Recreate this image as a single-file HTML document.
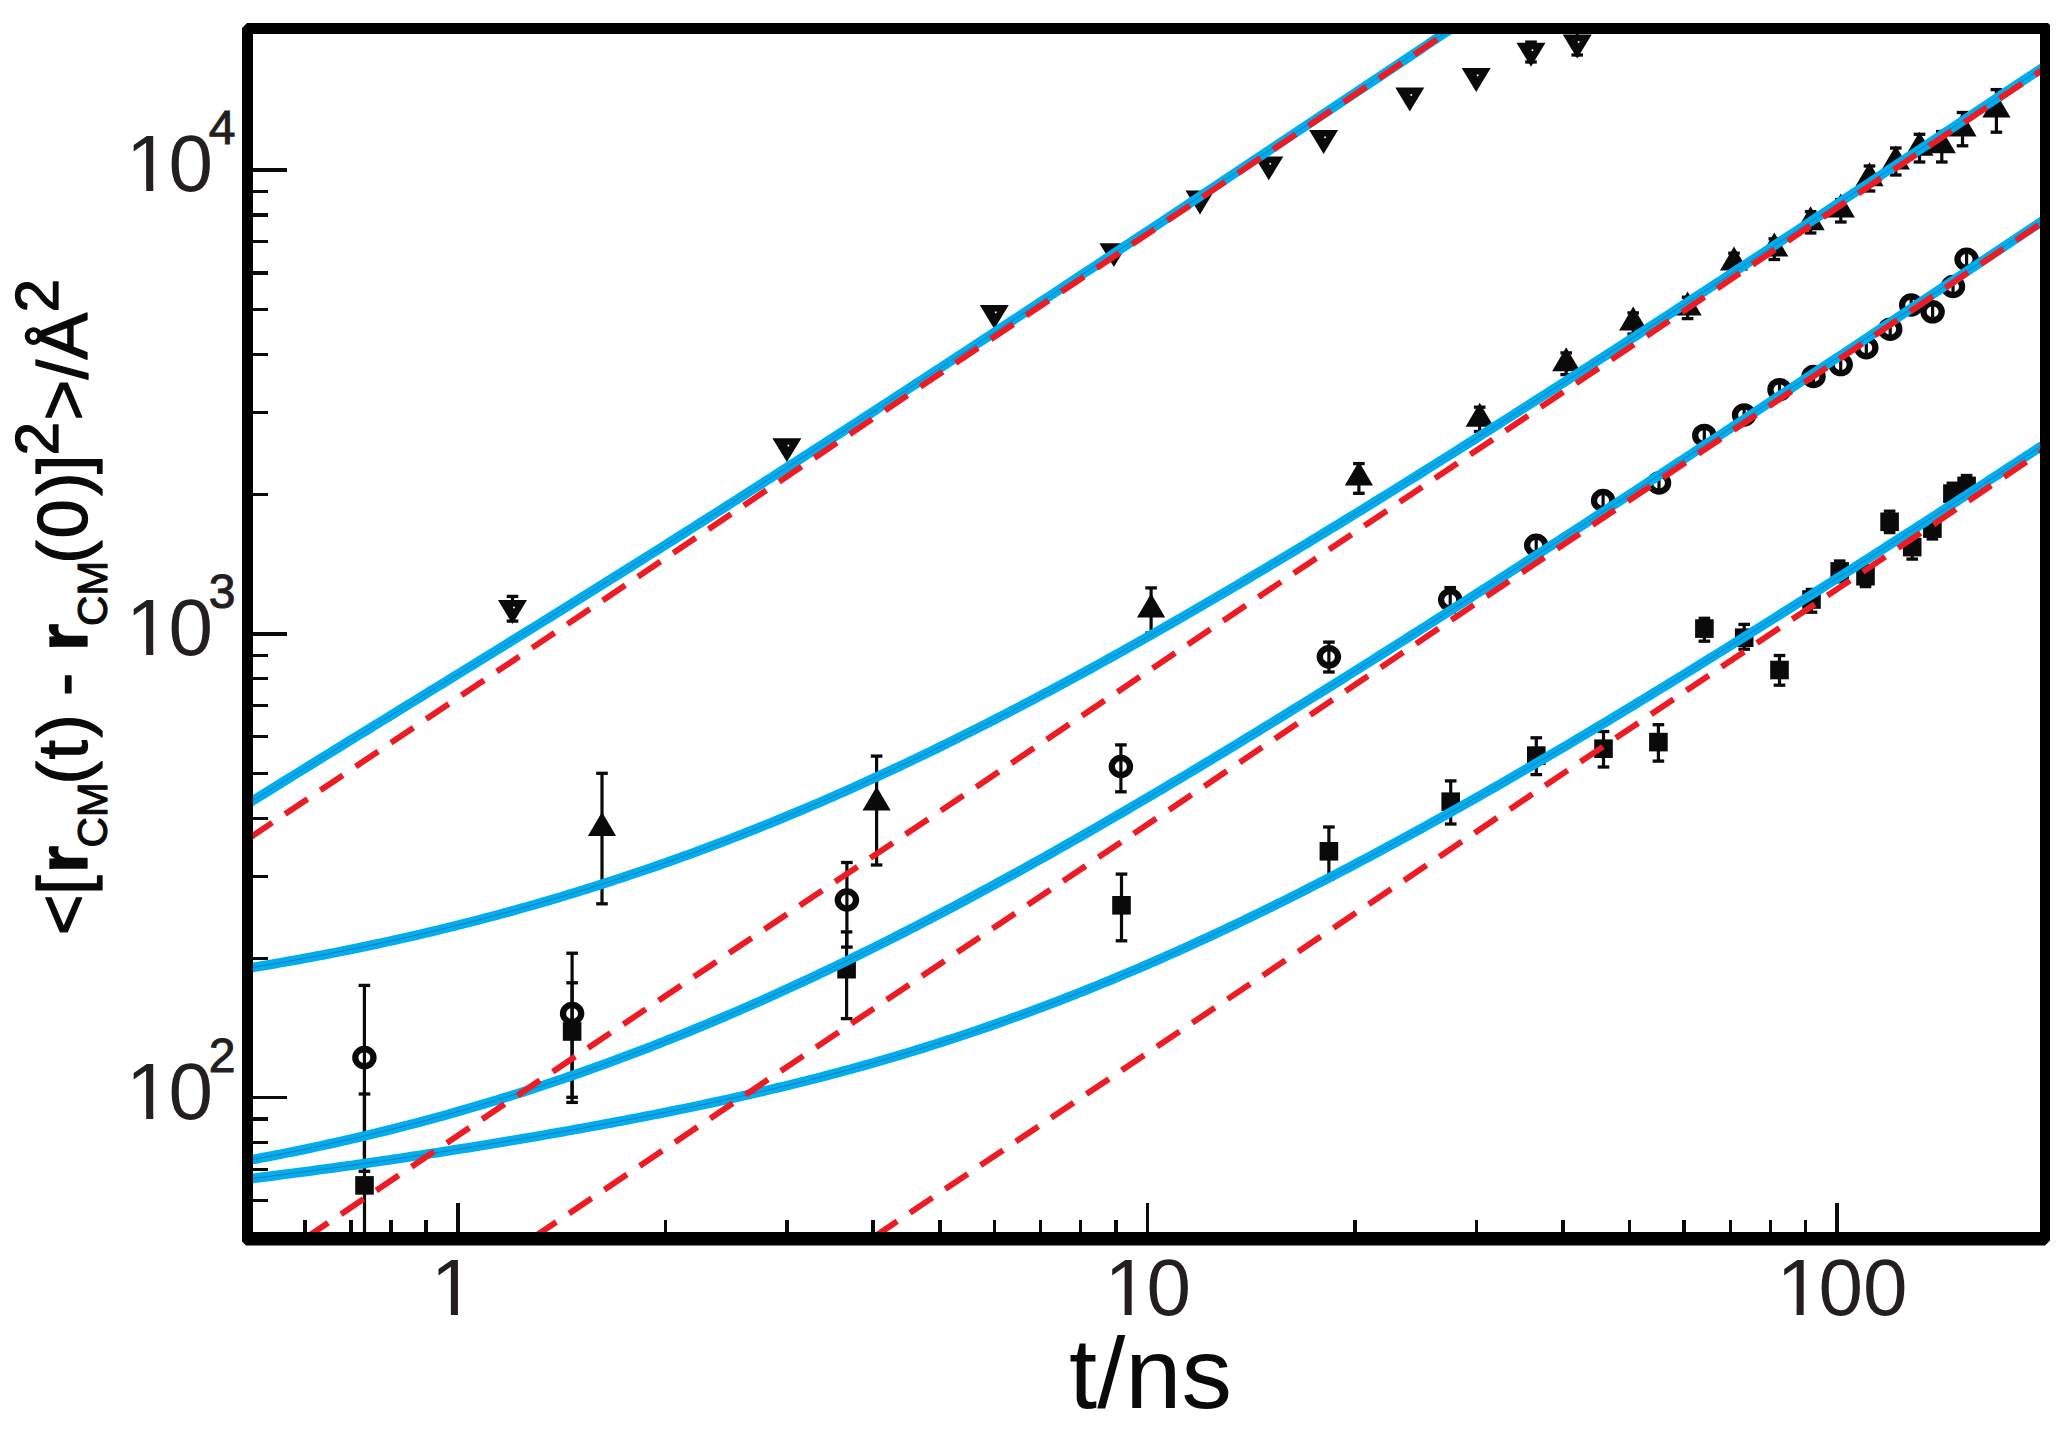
<!DOCTYPE html>
<html lang="en"><head><meta charset="utf-8"><title>MSD plot</title>
<style>html,body{margin:0;padding:0;background:#fff;}body{width:2069px;height:1441px;overflow:hidden;}svg{display:block;}text{font-family:"Liberation Sans",sans-serif;}</style>
</head><body>
<svg width="2069" height="1441" viewBox="0 0 2069 1441">
<rect width="2069" height="1441" fill="#fff"/>
<defs><clipPath id="plot"><rect x="253" y="34" width="1787" height="1198"/></clipPath></defs>
<g fill="#0a0a0a" shape-rendering="crispEdges">
<rect x="302.99" y="1220.2" width="3.6" height="13.8"/>
<rect x="349.16" y="1220.2" width="3.6" height="13.8"/>
<rect x="389.16" y="1220.2" width="3.6" height="13.8"/>
<rect x="424.44" y="1220.2" width="3.6" height="13.8"/>
<rect x="456" y="1203" width="3.6" height="31"/>
<rect x="663.62" y="1220.2" width="3.6" height="13.8"/>
<rect x="785.07" y="1220.2" width="3.6" height="13.8"/>
<rect x="871.24" y="1220.2" width="3.6" height="13.8"/>
<rect x="938.08" y="1220.2" width="3.6" height="13.8"/>
<rect x="992.69" y="1220.2" width="3.6" height="13.8"/>
<rect x="1038.86" y="1220.2" width="3.6" height="13.8"/>
<rect x="1078.86" y="1220.2" width="3.6" height="13.8"/>
<rect x="1114.14" y="1220.2" width="3.6" height="13.8"/>
<rect x="1145.7" y="1203" width="3.6" height="31"/>
<rect x="1353.32" y="1220.2" width="3.6" height="13.8"/>
<rect x="1474.77" y="1220.2" width="3.6" height="13.8"/>
<rect x="1560.94" y="1220.2" width="3.6" height="13.8"/>
<rect x="1627.78" y="1220.2" width="3.6" height="13.8"/>
<rect x="1682.39" y="1220.2" width="3.6" height="13.8"/>
<rect x="1728.56" y="1220.2" width="3.6" height="13.8"/>
<rect x="1768.56" y="1220.2" width="3.6" height="13.8"/>
<rect x="1803.84" y="1220.2" width="3.6" height="13.8"/>
<rect x="1835.4" y="1203" width="3.6" height="31"/>
<rect x="251" y="1199.12" width="17" height="3.2"/>
<rect x="251" y="1168.06" width="17" height="3.2"/>
<rect x="251" y="1141.16" width="17" height="3.2"/>
<rect x="251" y="1117.43" width="17" height="3.2"/>
<rect x="251" y="1096.2" width="36" height="3.2"/>
<rect x="251" y="956.55" width="17" height="3.2"/>
<rect x="251" y="874.86" width="17" height="3.2"/>
<rect x="251" y="816.9" width="17" height="3.2"/>
<rect x="251" y="771.95" width="17" height="3.2"/>
<rect x="251" y="735.22" width="17" height="3.2"/>
<rect x="251" y="704.16" width="17" height="3.2"/>
<rect x="251" y="677.26" width="17" height="3.2"/>
<rect x="251" y="653.53" width="17" height="3.2"/>
<rect x="251" y="632.3" width="36" height="3.2"/>
<rect x="251" y="492.65" width="17" height="3.2"/>
<rect x="251" y="410.96" width="17" height="3.2"/>
<rect x="251" y="353" width="17" height="3.2"/>
<rect x="251" y="308.05" width="17" height="3.2"/>
<rect x="251" y="271.32" width="17" height="3.2"/>
<rect x="251" y="240.26" width="17" height="3.2"/>
<rect x="251" y="213.36" width="17" height="3.2"/>
<rect x="251" y="189.63" width="17" height="3.2"/>
<rect x="251" y="168.4" width="36" height="3.2"/>
</g>
<g clip-path="url(#plot)">
<g fill="#0a0a0a">
<rect x="362.9" y="1094" width="3.2" height="140"/>
<rect x="358.7" y="1092.35" width="11.6" height="3.3"/>
<rect x="355.2" y="1176.1" width="18.6" height="18.6"/>
<rect x="570.5" y="982.8" width="3.2" height="114.5"/>
<rect x="566.3" y="981.15" width="11.6" height="3.3"/>
<rect x="566.3" y="1095.65" width="11.6" height="3.3"/>
<rect x="562.8" y="1022.2" width="18.6" height="18.6"/>
<rect x="845" y="931.9" width="3.2" height="86.7"/>
<rect x="840.8" y="930.25" width="11.6" height="3.3"/>
<rect x="840.8" y="1016.95" width="11.6" height="3.3"/>
<rect x="837.3" y="959.9" width="18.6" height="18.6"/>
<rect x="1119.9" y="874.1" width="3.2" height="66.7"/>
<rect x="1115.7" y="872.45" width="11.6" height="3.3"/>
<rect x="1115.7" y="939.15" width="11.6" height="3.3"/>
<rect x="1112.2" y="896" width="18.6" height="18.6"/>
<rect x="1327.3" y="827" width="3.2" height="51.8"/>
<rect x="1323.1" y="825.35" width="11.6" height="3.3"/>
<rect x="1323.1" y="877.15" width="11.6" height="3.3"/>
<rect x="1319.6" y="842" width="18.6" height="18.6"/>
<rect x="1449.1" y="780.9" width="3.2" height="43.1"/>
<rect x="1444.9" y="779.25" width="11.6" height="3.3"/>
<rect x="1444.9" y="822.35" width="11.6" height="3.3"/>
<rect x="1441.4" y="792.4" width="18.6" height="18.6"/>
<rect x="1534.7" y="737.8" width="3.2" height="36.8"/>
<rect x="1530.5" y="736.15" width="11.6" height="3.3"/>
<rect x="1530.5" y="772.95" width="11.6" height="3.3"/>
<rect x="1527" y="746.3" width="18.6" height="18.6"/>
<rect x="1601.9" y="731.5" width="3.2" height="35.5"/>
<rect x="1597.7" y="729.85" width="11.6" height="3.3"/>
<rect x="1597.7" y="765.35" width="11.6" height="3.3"/>
<rect x="1594.2" y="739.4" width="18.6" height="18.6"/>
<rect x="1656.8" y="724.7" width="3.2" height="36.4"/>
<rect x="1652.6" y="723.05" width="11.6" height="3.3"/>
<rect x="1652.6" y="759.45" width="11.6" height="3.3"/>
<rect x="1649.1" y="732.8" width="18.6" height="18.6"/>
<rect x="1702.8" y="618.3" width="3.2" height="22.9"/>
<rect x="1698.6" y="616.65" width="11.6" height="3.3"/>
<rect x="1698.6" y="639.55" width="11.6" height="3.3"/>
<rect x="1695.1" y="619.3" width="18.6" height="18.6"/>
<rect x="1742.6" y="624.4" width="3.2" height="24.8"/>
<rect x="1738.4" y="622.75" width="11.6" height="3.3"/>
<rect x="1738.4" y="647.55" width="11.6" height="3.3"/>
<rect x="1734.9" y="628.4" width="18.6" height="18.6"/>
<rect x="1777.9" y="655.5" width="3.2" height="29.7"/>
<rect x="1773.7" y="653.85" width="11.6" height="3.3"/>
<rect x="1773.7" y="683.55" width="11.6" height="3.3"/>
<rect x="1770.2" y="660.7" width="18.6" height="18.6"/>
<rect x="1809.9" y="589.4" width="3.2" height="22.8"/>
<rect x="1805.7" y="587.75" width="11.6" height="3.3"/>
<rect x="1805.7" y="610.55" width="11.6" height="3.3"/>
<rect x="1802.2" y="590.2" width="18.6" height="18.6"/>
<rect x="1838.1" y="561" width="3.2" height="20.8"/>
<rect x="1833.9" y="559.35" width="11.6" height="3.3"/>
<rect x="1833.9" y="580.15" width="11.6" height="3.3"/>
<rect x="1830.4" y="562.1" width="18.6" height="18.6"/>
<rect x="1863.9" y="565.8" width="3.2" height="20.8"/>
<rect x="1859.7" y="564.15" width="11.6" height="3.3"/>
<rect x="1859.7" y="584.95" width="11.6" height="3.3"/>
<rect x="1856.2" y="566.9" width="18.6" height="18.6"/>
<rect x="1888" y="511.2" width="3.2" height="21.4"/>
<rect x="1883.8" y="509.55" width="11.6" height="3.3"/>
<rect x="1883.8" y="530.95" width="11.6" height="3.3"/>
<rect x="1880.3" y="512.5" width="18.6" height="18.6"/>
<rect x="1910.6" y="535" width="3.2" height="24.1"/>
<rect x="1906.4" y="533.35" width="11.6" height="3.3"/>
<rect x="1906.4" y="557.45" width="11.6" height="3.3"/>
<rect x="1902.9" y="537.8" width="18.6" height="18.6"/>
<rect x="1930.8" y="518.2" width="3.2" height="20.8"/>
<rect x="1926.6" y="516.55" width="11.6" height="3.3"/>
<rect x="1926.6" y="537.35" width="11.6" height="3.3"/>
<rect x="1923.1" y="519.3" width="18.6" height="18.6"/>
<rect x="1950.8" y="483.2" width="3.2" height="20.8"/>
<rect x="1946.6" y="481.55" width="11.6" height="3.3"/>
<rect x="1946.6" y="502.35" width="11.6" height="3.3"/>
<rect x="1943.1" y="484.3" width="18.6" height="18.6"/>
<rect x="1965" y="475.5" width="3.2" height="20.8"/>
<rect x="1960.8" y="473.85" width="11.6" height="3.3"/>
<rect x="1960.8" y="494.65" width="11.6" height="3.3"/>
<rect x="1957.3" y="476.6" width="18.6" height="18.6"/>
<rect x="362.8" y="985.4" width="3.2" height="185.9"/>
<rect x="358.6" y="983.75" width="11.6" height="3.3"/>
<rect x="358.6" y="1169.65" width="11.6" height="3.3"/>
<rect x="570.5" y="953.2" width="3.2" height="149.2"/>
<rect x="566.3" y="951.55" width="11.6" height="3.3"/>
<rect x="566.3" y="1100.75" width="11.6" height="3.3"/>
<rect x="845.3" y="862.5" width="3.2" height="84.6"/>
<rect x="841.1" y="860.85" width="11.6" height="3.3"/>
<rect x="841.1" y="945.45" width="11.6" height="3.3"/>
<rect x="1119.3" y="744.9" width="3.2" height="46.9"/>
<rect x="1115.1" y="743.25" width="11.6" height="3.3"/>
<rect x="1115.1" y="790.15" width="11.6" height="3.3"/>
<rect x="1327.3" y="642.1" width="3.2" height="29.9"/>
<rect x="1323.1" y="640.45" width="11.6" height="3.3"/>
<rect x="1323.1" y="670.35" width="11.6" height="3.3"/>
<rect x="1448.6" y="587.6" width="3.2" height="24.4"/>
<rect x="1444.4" y="585.95" width="11.6" height="3.3"/>
<rect x="1444.4" y="610.35" width="11.6" height="3.3"/>
<rect x="1534.6" y="535" width="3.2" height="21"/>
<rect x="1601.5" y="490" width="3.2" height="21"/>
<rect x="1657.4" y="473" width="3.2" height="20"/>
<rect x="1702.7" y="425" width="3.2" height="21"/>
<rect x="1742.5" y="405" width="3.2" height="20"/>
<rect x="1777.9" y="380" width="3.2" height="20"/>
<rect x="1811.9" y="366" width="3.2" height="21"/>
<rect x="1839.1" y="354" width="3.2" height="21"/>
<rect x="1864.7" y="337" width="3.2" height="21"/>
<rect x="1888.6" y="319" width="3.2" height="21"/>
<rect x="1909.6" y="295" width="3.2" height="20"/>
<rect x="1931" y="301" width="3.2" height="21"/>
<rect x="1951.4" y="276" width="3.2" height="21"/>
<rect x="1965" y="249" width="3.2" height="21"/>
<rect x="600.4" y="773.3" width="3.2" height="130.5"/>
<rect x="596.2" y="771.65" width="11.6" height="3.3"/>
<rect x="596.2" y="902.15" width="11.6" height="3.3"/>
<path d="M602 811.9 L616.1 835.9 L587.9 835.9Z"/>
<rect x="875" y="756.1" width="3.2" height="108.9"/>
<rect x="870.8" y="754.45" width="11.6" height="3.3"/>
<rect x="870.8" y="863.35" width="11.6" height="3.3"/>
<path d="M876.6 786.5 L890.7 810.5 L862.5 810.5Z"/>
<rect x="1149.5" y="587.9" width="3.2" height="45.1"/>
<rect x="1145.3" y="586.25" width="11.6" height="3.3"/>
<rect x="1145.3" y="631.35" width="11.6" height="3.3"/>
<path d="M1151.1 593.5 L1165.2 617.5 L1137 617.5Z"/>
<rect x="1357.3" y="463.6" width="3.2" height="29.7"/>
<rect x="1353.1" y="461.95" width="11.6" height="3.3"/>
<rect x="1353.1" y="491.65" width="11.6" height="3.3"/>
<path d="M1358.9 461.5 L1373 485.5 L1344.8 485.5Z"/>
<rect x="1478.1" y="407.2" width="3.2" height="24.3"/>
<rect x="1473.9" y="405.55" width="11.6" height="3.3"/>
<rect x="1473.9" y="429.85" width="11.6" height="3.3"/>
<path d="M1479.7 402.7 L1493.8 426.7 L1465.6 426.7Z"/>
<rect x="1564.6" y="352.9" width="3.2" height="21.7"/>
<rect x="1560.4" y="351.25" width="11.6" height="3.3"/>
<rect x="1560.4" y="372.95" width="11.6" height="3.3"/>
<path d="M1566.2 347.3 L1580.3 371.3 L1552.1 371.3Z"/>
<rect x="1631.6" y="312.9" width="3.2" height="21.1"/>
<rect x="1627.4" y="311.25" width="11.6" height="3.3"/>
<rect x="1627.4" y="332.35" width="11.6" height="3.3"/>
<path d="M1633.2 306.5 L1647.3 330.5 L1619.1 330.5Z"/>
<rect x="1686" y="297.2" width="3.2" height="21.4"/>
<rect x="1681.8" y="295.55" width="11.6" height="3.3"/>
<rect x="1681.8" y="316.95" width="11.6" height="3.3"/>
<path d="M1687.6 291.5 L1701.7 315.5 L1673.5 315.5Z"/>
<rect x="1732.4" y="253.2" width="3.2" height="21.3"/>
<rect x="1728.2" y="251.55" width="11.6" height="3.3"/>
<rect x="1728.2" y="272.85" width="11.6" height="3.3"/>
<path d="M1734 246.6 L1748.1 270.6 L1719.9 270.6Z"/>
<rect x="1772.7" y="238.8" width="3.2" height="20.7"/>
<rect x="1768.5" y="237.15" width="11.6" height="3.3"/>
<rect x="1768.5" y="257.85" width="11.6" height="3.3"/>
<path d="M1774.3 232.6 L1788.4 256.6 L1760.2 256.6Z"/>
<rect x="1809" y="211.6" width="3.2" height="21.4"/>
<rect x="1804.8" y="209.95" width="11.6" height="3.3"/>
<rect x="1804.8" y="231.35" width="11.6" height="3.3"/>
<path d="M1810.6 206.2 L1824.7 230.2 L1796.5 230.2Z"/>
<rect x="1839.2" y="199.5" width="3.2" height="22.5"/>
<rect x="1835" y="197.85" width="11.6" height="3.3"/>
<rect x="1835" y="220.35" width="11.6" height="3.3"/>
<path d="M1840.8 193.4 L1854.9 217.4 L1826.7 217.4Z"/>
<rect x="1867.9" y="166" width="3.2" height="25"/>
<rect x="1863.7" y="164.35" width="11.6" height="3.3"/>
<rect x="1863.7" y="189.35" width="11.6" height="3.3"/>
<path d="M1869.5 162.2 L1883.6 186.2 L1855.4 186.2Z"/>
<rect x="1894.2" y="148" width="3.2" height="27"/>
<rect x="1890" y="146.35" width="11.6" height="3.3"/>
<rect x="1890" y="173.35" width="11.6" height="3.3"/>
<path d="M1895.8 145.5 L1909.9 169.5 L1881.7 169.5Z"/>
<rect x="1917.9" y="134.3" width="3.2" height="27.7"/>
<rect x="1913.7" y="132.65" width="11.6" height="3.3"/>
<rect x="1913.7" y="160.35" width="11.6" height="3.3"/>
<path d="M1919.5 131.8 L1933.6 155.8 L1905.4 155.8Z"/>
<rect x="1940.2" y="131.5" width="3.2" height="30.5"/>
<rect x="1936" y="129.85" width="11.6" height="3.3"/>
<rect x="1936" y="160.35" width="11.6" height="3.3"/>
<path d="M1941.8 129.3 L1955.9 153.3 L1927.7 153.3Z"/>
<rect x="1960.9" y="112.5" width="3.2" height="33.3"/>
<rect x="1956.7" y="110.85" width="11.6" height="3.3"/>
<rect x="1956.7" y="144.15" width="11.6" height="3.3"/>
<path d="M1962.5 112.5 L1976.6 136.5 L1948.4 136.5Z"/>
<rect x="1994.8" y="89.6" width="3.2" height="42.6"/>
<rect x="1990.6" y="87.95" width="11.6" height="3.3"/>
<rect x="1990.6" y="130.55" width="11.6" height="3.3"/>
<path d="M1996.4 93.4 L2010.5 117.4 L1982.3 117.4Z"/>
<rect x="510.9" y="596.4" width="3.2" height="24.7"/>
<rect x="506.7" y="594.75" width="11.6" height="3.3"/>
<rect x="506.7" y="619.45" width="11.6" height="3.3"/>
<path d="M498 600.1 L527 600.1 L512.5 624Z"/>
<path d="M772.4 438.2 L801.4 438.2 L786.9 462.1Z"/>
<path d="M979.8 305 L1008.8 305 L994.3 328.9Z"/>
<path d="M1099.4 243.2 L1128.4 243.2 L1113.9 267.1Z"/>
<path d="M1185.5 190.6 L1214.5 190.6 L1200 214.5Z"/>
<path d="M1254.3 156.4 L1283.3 156.4 L1268.8 180.3Z"/>
<path d="M1309.1 130 L1338.1 130 L1323.6 153.9Z"/>
<path d="M1395.3 87.6 L1424.3 87.6 L1409.8 111.5Z"/>
<path d="M1461.7 68 L1490.7 68 L1476.2 91.9Z"/>
<rect x="1529.4" y="42.1" width="3.2" height="21.9"/>
<rect x="1525.2" y="40.45" width="11.6" height="3.3"/>
<rect x="1525.2" y="60.35" width="11.6" height="3.3"/>
<path d="M1516.5 42.8 L1545.5 42.8 L1531 66.7Z"/>
<rect x="1575.6" y="34" width="3.2" height="23"/>
<rect x="1571.4" y="53.35" width="11.6" height="3.3"/>
<path d="M1562.7 34.6 L1591.7 34.6 L1577.2 58.5Z"/>
</g>
<g fill="none" stroke="#0a0a0a" stroke-width="6.3">
<ellipse cx="364.4" cy="1057.6" rx="9.1" ry="8.6"/>
<ellipse cx="572.1" cy="1013.5" rx="9.1" ry="8.6"/>
<ellipse cx="846.9" cy="900" rx="9.1" ry="8.6"/>
<ellipse cx="1120.9" cy="766.5" rx="9.1" ry="8.6"/>
<ellipse cx="1328.9" cy="656.8" rx="9.1" ry="8.6"/>
<ellipse cx="1450.2" cy="599.8" rx="9.1" ry="8.6"/>
<ellipse cx="1536.2" cy="545.3" rx="9.1" ry="8.6"/>
<ellipse cx="1603.1" cy="500.5" rx="9.1" ry="8.6"/>
<ellipse cx="1659" cy="483" rx="9.1" ry="8.6"/>
<ellipse cx="1704.3" cy="435.4" rx="9.1" ry="8.6"/>
<ellipse cx="1744.1" cy="415" rx="9.1" ry="8.6"/>
<ellipse cx="1779.5" cy="389.7" rx="9.1" ry="8.6"/>
<ellipse cx="1813.5" cy="376.5" rx="9.1" ry="8.6"/>
<ellipse cx="1840.7" cy="364.6" rx="9.1" ry="8.6"/>
<ellipse cx="1866.3" cy="347.7" rx="9.1" ry="8.6"/>
<ellipse cx="1890.2" cy="329.2" rx="9.1" ry="8.6"/>
<ellipse cx="1911.2" cy="305" rx="9.1" ry="8.6"/>
<ellipse cx="1932.6" cy="311.8" rx="9.1" ry="8.6"/>
<ellipse cx="1953" cy="286.5" rx="9.1" ry="8.6"/>
<ellipse cx="1966.6" cy="259.3" rx="9.1" ry="8.6"/>
</g>
<g fill="#fff">
<rect x="513.1" y="606.6" width="1.7" height="1.7"/>
<rect x="787.5" y="444.7" width="1.7" height="1.7"/>
<rect x="994.9" y="311.5" width="1.7" height="1.7"/>
<rect x="1114.5" y="249.7" width="1.7" height="1.7"/>
<rect x="1200.6" y="197.1" width="1.7" height="1.7"/>
<rect x="1269.4" y="162.9" width="1.7" height="1.7"/>
<rect x="1324.2" y="136.5" width="1.7" height="1.7"/>
<rect x="1410.4" y="94.1" width="1.7" height="1.7"/>
<rect x="1476.8" y="74.5" width="1.7" height="1.7"/>
<rect x="1531.6" y="49.3" width="1.7" height="1.7"/>
<rect x="1577.8" y="41.1" width="1.7" height="1.7"/>
</g>
<g fill="none" stroke="#00aeef" stroke-width="9.6" stroke-linejoin="round">
<path d="M245 805.47 L251 801.75 L257 798.03 L263 794.3 L269 790.58 L275 786.87 L281 783.15 L287 779.44 L293 775.73 L299 772.02 L305 768.31 L311 764.61 L317 760.9 L323 757.2 L329 753.5 L335 749.8 L341 746.1 L347 742.4 L353 738.7 L359 735.01 L365 731.31 L371 727.62 L377 723.93 L383 720.23 L389 716.54 L395 712.85 L401 709.15 L407 705.46 L413 701.77 L419 698.08 L425 694.39 L431 690.69 L437 687 L443 683.3 L449 679.61 L455 675.91 L461 672.22 L467 668.52 L473 664.82 L479 661.12 L485 657.42 L491 653.71 L497 650.01 L503 646.3 L509 642.59 L515 638.88 L521 635.17 L527 631.45 L533 627.74 L539 624.02 L545 620.29 L551 616.57 L557 612.84 L563 609.11 L569 605.38 L575 601.64 L581 597.9 L587 594.16 L593 590.41 L599 586.66 L605 582.91 L611 579.16 L617 575.4 L623 571.64 L629 567.87 L635 564.1 L641 560.33 L647 556.55 L653 552.77 L659 548.99 L665 545.2 L671 541.41 L677 537.62 L683 533.82 L689 530.02 L695 526.21 L701 522.41 L707 518.59 L713 514.78 L719 510.96 L725 507.13 L731 503.31 L737 499.48 L743 495.64 L749 491.81 L755 487.97 L761 484.12 L767 480.27 L773 476.42 L779 472.57 L785 468.71 L791 464.85 L797 460.99 L803 457.12 L809 453.25 L815 449.38 L821 445.5 L827 441.62 L833 437.74 L839 433.85 L845 429.97 L851 426.07 L857 422.18 L863 418.29 L869 414.39 L875 410.49 L881 406.58 L887 402.68 L893 398.77 L899 394.85 L905 390.94 L911 387.03 L917 383.11 L923 379.19 L929 375.26 L935 371.34 L941 367.41 L947 363.48 L953 359.55 L959 355.62 L965 351.68 L971 347.75 L977 343.81 L983 339.87 L989 335.92 L995 331.98 L1001 328.03 L1007 324.08 L1013 320.13 L1019 316.18 L1025 312.23 L1031 308.27 L1037 304.32 L1043 300.36 L1049 296.4 L1055 292.44 L1061 288.48 L1067 284.51 L1073 280.55 L1079 276.58 L1085 272.61 L1091 268.65 L1097 264.67 L1103 260.7 L1109 256.73 L1115 252.76 L1121 248.78 L1127 244.8 L1133 240.83 L1139 236.85 L1145 232.87 L1151 228.89 L1157 224.9 L1163 220.92 L1169 216.94 L1175 212.95 L1181 208.97 L1187 204.98 L1193 200.99 L1199 197 L1205 193.01 L1211 189.02 L1217 185.03 L1223 181.04 L1229 177.04 L1235 173.05 L1241 169.05 L1247 165.06 L1253 161.06 L1259 157.06 L1265 153.06 L1271 149.07 L1277 145.07 L1283 141.07 L1289 137.06 L1295 133.06 L1301 129.06 L1307 125.06 L1313 121.05 L1319 117.05 L1325 113.04 L1331 109.04 L1337 105.03 L1343 101.03 L1349 97.02 L1355 93.01 L1361 89 L1367 84.99 L1373 80.98 L1379 76.97 L1385 72.96 L1391 68.95 L1397 64.94 L1403 60.93 L1409 56.92 L1415 52.9 L1421 48.89 L1427 44.88 L1433 40.86 L1439 36.85 L1445 32.83 L1451 28.82 L1457 24.8 L1463 20.79 L1469 16.77 L1475 12.75 L1481 8.73 L1487 4.72 L1493 0.7 L1499 -3.32 L1505 -7.34 L1511 -11.36 L1517 -15.38 L1523 -19.4 L1529 -23.42 L1535 -27.44 L1541 -31.46 L1547 -35.48 L1553 -39.5 L1559 -43.52 L1565 -47.54 L1571 -51.57 L1577 -55.59 L1583 -59.61 L1589 -63.63 L1595 -67.66 L1601 -71.68 L1607 -75.7 L1613 -79.73 L1619 -83.75 L1625 -87.78 L1631 -91.8 L1637 -95.83 L1643 -99.85 L1649 -103.88 L1655 -107.9 L1661 -111.93 L1667 -115.95 L1673 -119.98 L1679 -124 L1685 -128.03 L1691 -132.06 L1697 -136.08 L1703 -140.11 L1709 -144.14 L1715 -148.17 L1721 -152.19 L1727 -156.22 L1733 -160.25 L1739 -164.28 L1745 -168.3 L1751 -172.33 L1757 -176.36 L1763 -180.39 L1769 -184.42 L1775 -188.45 L1781 -192.48 L1787 -196.5 L1793 -200.53 L1799 -204.56 L1805 -208.59 L1811 -212.62 L1817 -216.65 L1823 -220.68 L1829 -224.71 L1835 -228.74 L1841 -232.77 L1847 -236.8 L1853 -240.83 L1859 -244.86 L1865 -248.89 L1871 -252.92 L1877 -256.95 L1883 -260.99 L1889 -265.02 L1895 -269.05 L1901 -273.08 L1907 -277.11 L1913 -281.14 L1919 -285.17 L1925 -289.2 L1931 -293.24 L1937 -297.27 L1943 -301.3 L1949 -305.33 L1955 -309.36 L1961 -313.39 L1967 -317.43 L1973 -321.46 L1979 -325.49 L1985 -329.52 L1991 -333.56 L1997 -337.59 L2003 -341.62 L2009 -345.65 L2015 -349.69 L2021 -353.72 L2027 -357.75 L2033 -361.78 L2039 -365.82 L2045 -369.85 L2048 -371.87"/>
<path d="M245 968.7 L251 967.72 L257 966.73 L263 965.73 L269 964.71 L275 963.68 L281 962.63 L287 961.58 L293 960.5 L299 959.42 L305 958.32 L311 957.2 L317 956.07 L323 954.93 L329 953.77 L335 952.59 L341 951.41 L347 950.2 L353 948.99 L359 947.75 L365 946.5 L371 945.24 L377 943.96 L383 942.67 L389 941.36 L395 940.03 L401 938.69 L407 937.33 L413 935.96 L419 934.57 L425 933.16 L431 931.74 L437 930.3 L443 928.85 L449 927.38 L455 925.89 L461 924.39 L467 922.87 L473 921.34 L479 919.78 L485 918.21 L491 916.63 L497 915.02 L503 913.4 L509 911.76 L515 910.11 L521 908.44 L527 906.75 L533 905.04 L539 903.32 L545 901.58 L551 899.82 L557 898.04 L563 896.24 L569 894.43 L575 892.6 L581 890.75 L587 888.89 L593 887.01 L599 885.1 L605 883.18 L611 881.25 L617 879.29 L623 877.32 L629 875.32 L635 873.31 L641 871.28 L647 869.24 L653 867.17 L659 865.09 L665 862.98 L671 860.86 L677 858.72 L683 856.56 L689 854.39 L695 852.19 L701 849.98 L707 847.74 L713 845.49 L719 843.22 L725 840.93 L731 838.63 L737 836.3 L743 833.95 L749 831.59 L755 829.21 L761 826.81 L767 824.39 L773 821.95 L779 819.5 L785 817.02 L791 814.53 L797 812.02 L803 809.49 L809 806.94 L815 804.37 L821 801.79 L827 799.19 L833 796.57 L839 793.93 L845 791.27 L851 788.6 L857 785.91 L863 783.2 L869 780.47 L875 777.73 L881 774.97 L887 772.19 L893 769.39 L899 766.58 L905 763.75 L911 760.91 L917 758.04 L923 755.16 L929 752.27 L935 749.36 L941 746.43 L947 743.49 L953 740.53 L959 737.55 L965 734.56 L971 731.55 L977 728.53 L983 725.5 L989 722.44 L995 719.38 L1001 716.3 L1007 713.2 L1013 710.09 L1019 706.97 L1025 703.83 L1031 700.68 L1037 697.51 L1043 694.33 L1049 691.14 L1055 687.94 L1061 684.72 L1067 681.48 L1073 678.24 L1079 674.98 L1085 671.71 L1091 668.43 L1097 665.14 L1103 661.83 L1109 658.51 L1115 655.18 L1121 651.84 L1127 648.49 L1133 645.12 L1139 641.75 L1145 638.36 L1151 634.96 L1157 631.55 L1163 628.14 L1169 624.71 L1175 621.27 L1181 617.82 L1187 614.36 L1193 610.89 L1199 607.41 L1205 603.92 L1211 600.42 L1217 596.92 L1223 593.4 L1229 589.88 L1235 586.34 L1241 582.8 L1247 579.25 L1253 575.69 L1259 572.12 L1265 568.54 L1271 564.96 L1277 561.37 L1283 557.76 L1289 554.16 L1295 550.54 L1301 546.92 L1307 543.29 L1313 539.65 L1319 536 L1325 532.35 L1331 528.69 L1337 525.03 L1343 521.36 L1349 517.68 L1355 513.99 L1361 510.3 L1367 506.6 L1373 502.9 L1379 499.19 L1385 495.47 L1391 491.75 L1397 488.02 L1403 484.29 L1409 480.55 L1415 476.81 L1421 473.06 L1427 469.3 L1433 465.54 L1439 461.78 L1445 458.01 L1451 454.23 L1457 450.45 L1463 446.67 L1469 442.88 L1475 439.08 L1481 435.28 L1487 431.48 L1493 427.67 L1499 423.86 L1505 420.05 L1511 416.23 L1517 412.4 L1523 408.57 L1529 404.74 L1535 400.91 L1541 397.07 L1547 393.22 L1553 389.38 L1559 385.53 L1565 381.67 L1571 377.82 L1577 373.96 L1583 370.09 L1589 366.22 L1595 362.35 L1601 358.48 L1607 354.6 L1613 350.72 L1619 346.84 L1625 342.95 L1631 339.07 L1637 335.17 L1643 331.28 L1649 327.38 L1655 323.48 L1661 319.58 L1667 315.68 L1673 311.77 L1679 307.86 L1685 303.95 L1691 300.03 L1697 296.12 L1703 292.2 L1709 288.28 L1715 284.35 L1721 280.43 L1727 276.5 L1733 272.57 L1739 268.64 L1745 264.7 L1751 260.77 L1757 256.83 L1763 252.89 L1769 248.95 L1775 245.01 L1781 241.06 L1787 237.11 L1793 233.17 L1799 229.21 L1805 225.26 L1811 221.31 L1817 217.35 L1823 213.4 L1829 209.44 L1835 205.48 L1841 201.52 L1847 197.55 L1853 193.59 L1859 189.63 L1865 185.66 L1871 181.69 L1877 177.72 L1883 173.75 L1889 169.78 L1895 165.8 L1901 161.83 L1907 157.85 L1913 153.88 L1919 149.9 L1925 145.92 L1931 141.94 L1937 137.96 L1943 133.97 L1949 129.99 L1955 126.01 L1961 122.02 L1967 118.03 L1973 114.05 L1979 110.06 L1985 106.07 L1991 102.08 L1997 98.09 L2003 94.1 L2009 90.1 L2015 86.11 L2021 82.11 L2027 78.12 L2033 74.12 L2039 70.13 L2045 66.13 L2048 64.13"/>
<path d="M245 1160.93 L251 1159.83 L257 1158.71 L263 1157.58 L269 1156.43 L275 1155.27 L281 1154.09 L287 1152.89 L293 1151.68 L299 1150.45 L305 1149.21 L311 1147.95 L317 1146.67 L323 1145.38 L329 1144.06 L335 1142.73 L341 1141.39 L347 1140.03 L353 1138.64 L359 1137.25 L365 1135.83 L371 1134.4 L377 1132.94 L383 1131.47 L389 1129.99 L395 1128.48 L401 1126.96 L407 1125.42 L413 1123.86 L419 1122.28 L425 1120.68 L431 1119.06 L437 1117.43 L443 1115.78 L449 1114.11 L455 1112.41 L461 1110.71 L467 1108.98 L473 1107.23 L479 1105.46 L485 1103.68 L491 1101.87 L497 1100.05 L503 1098.21 L509 1096.34 L515 1094.46 L521 1092.56 L527 1090.64 L533 1088.7 L539 1086.75 L545 1084.77 L551 1082.77 L557 1080.75 L563 1078.72 L569 1076.66 L575 1074.59 L581 1072.49 L587 1070.38 L593 1068.25 L599 1066.09 L605 1063.92 L611 1061.73 L617 1059.52 L623 1057.29 L629 1055.04 L635 1052.77 L641 1050.48 L647 1048.18 L653 1045.85 L659 1043.51 L665 1041.14 L671 1038.76 L677 1036.36 L683 1033.93 L689 1031.49 L695 1029.04 L701 1026.56 L707 1024.06 L713 1021.55 L719 1019.01 L725 1016.46 L731 1013.89 L737 1011.31 L743 1008.7 L749 1006.07 L755 1003.43 L761 1000.77 L767 998.09 L773 995.4 L779 992.68 L785 989.95 L791 987.21 L797 984.44 L803 981.66 L809 978.86 L815 976.04 L821 973.21 L827 970.36 L833 967.49 L839 964.61 L845 961.71 L851 958.79 L857 955.86 L863 952.91 L869 949.95 L875 946.97 L881 943.98 L887 940.97 L893 937.94 L899 934.9 L905 931.85 L911 928.78 L917 925.69 L923 922.6 L929 919.48 L935 916.36 L941 913.21 L947 910.06 L953 906.89 L959 903.71 L965 900.51 L971 897.31 L977 894.08 L983 890.85 L989 887.6 L995 884.34 L1001 881.07 L1007 877.78 L1013 874.49 L1019 871.18 L1025 867.86 L1031 864.52 L1037 861.18 L1043 857.82 L1049 854.46 L1055 851.08 L1061 847.69 L1067 844.29 L1073 840.88 L1079 837.46 L1085 834.03 L1091 830.59 L1097 827.14 L1103 823.67 L1109 820.2 L1115 816.72 L1121 813.23 L1127 809.73 L1133 806.22 L1139 802.71 L1145 799.18 L1151 795.64 L1157 792.1 L1163 788.54 L1169 784.98 L1175 781.41 L1181 777.83 L1187 774.25 L1193 770.65 L1199 767.05 L1205 763.44 L1211 759.83 L1217 756.2 L1223 752.57 L1229 748.93 L1235 745.28 L1241 741.63 L1247 737.97 L1253 734.3 L1259 730.63 L1265 726.95 L1271 723.26 L1277 719.57 L1283 715.87 L1289 712.16 L1295 708.45 L1301 704.74 L1307 701.01 L1313 697.28 L1319 693.55 L1325 689.81 L1331 686.06 L1337 682.31 L1343 678.56 L1349 674.8 L1355 671.03 L1361 667.26 L1367 663.48 L1373 659.7 L1379 655.92 L1385 652.13 L1391 648.33 L1397 644.53 L1403 640.73 L1409 636.92 L1415 633.11 L1421 629.29 L1427 625.47 L1433 621.64 L1439 617.82 L1445 613.98 L1451 610.15 L1457 606.31 L1463 602.46 L1469 598.61 L1475 594.76 L1481 590.91 L1487 587.05 L1493 583.19 L1499 579.32 L1505 575.46 L1511 571.59 L1517 567.71 L1523 563.83 L1529 559.95 L1535 556.07 L1541 552.18 L1547 548.29 L1553 544.4 L1559 540.51 L1565 536.61 L1571 532.71 L1577 528.81 L1583 524.9 L1589 521 L1595 517.09 L1601 513.17 L1607 509.26 L1613 505.34 L1619 501.42 L1625 497.5 L1631 493.58 L1637 489.65 L1643 485.72 L1649 481.79 L1655 477.86 L1661 473.92 L1667 469.99 L1673 466.05 L1679 462.11 L1685 458.17 L1691 454.22 L1697 450.28 L1703 446.33 L1709 442.38 L1715 438.43 L1721 434.48 L1727 430.52 L1733 426.57 L1739 422.61 L1745 418.65 L1751 414.69 L1757 410.73 L1763 406.77 L1769 402.8 L1775 398.84 L1781 394.87 L1787 390.9 L1793 386.93 L1799 382.96 L1805 378.99 L1811 375.01 L1817 371.04 L1823 367.06 L1829 363.09 L1835 359.11 L1841 355.13 L1847 351.15 L1853 347.17 L1859 343.18 L1865 339.2 L1871 335.22 L1877 331.23 L1883 327.24 L1889 323.26 L1895 319.27 L1901 315.28 L1907 311.29 L1913 307.3 L1919 303.3 L1925 299.31 L1931 295.32 L1937 291.32 L1943 287.33 L1949 283.33 L1955 279.33 L1961 275.33 L1967 271.34 L1973 267.34 L1979 263.34 L1985 259.34 L1991 255.33 L1997 251.33 L2003 247.33 L2009 243.33 L2015 239.32 L2021 235.32 L2027 231.31 L2033 227.31 L2039 223.3 L2045 219.29 L2048 217.29"/>
<path d="M245 1179.35 L251 1178.62 L257 1177.88 L263 1177.13 L269 1176.38 L275 1175.62 L281 1174.85 L287 1174.08 L293 1173.3 L299 1172.51 L305 1171.72 L311 1170.91 L317 1170.11 L323 1169.29 L329 1168.47 L335 1167.65 L341 1166.82 L347 1165.98 L353 1165.13 L359 1164.28 L365 1163.42 L371 1162.56 L377 1161.69 L383 1160.81 L389 1159.93 L395 1159.04 L401 1158.14 L407 1157.24 L413 1156.33 L419 1155.42 L425 1154.5 L431 1153.58 L437 1152.64 L443 1151.71 L449 1150.77 L455 1149.82 L461 1148.86 L467 1147.9 L473 1146.93 L479 1145.96 L485 1144.98 L491 1144 L497 1143.01 L503 1142.01 L509 1141.01 L515 1140 L521 1138.99 L527 1137.96 L533 1136.94 L539 1135.9 L545 1134.86 L551 1133.82 L557 1132.76 L563 1131.7 L569 1130.63 L575 1129.56 L581 1128.48 L587 1127.39 L593 1126.29 L599 1125.19 L605 1124.08 L611 1122.96 L617 1121.83 L623 1120.7 L629 1119.55 L635 1118.4 L641 1117.24 L647 1116.07 L653 1114.89 L659 1113.7 L665 1112.5 L671 1111.29 L677 1110.07 L683 1108.84 L689 1107.6 L695 1106.35 L701 1105.08 L707 1103.81 L713 1102.52 L719 1101.22 L725 1099.91 L731 1098.59 L737 1097.25 L743 1095.9 L749 1094.54 L755 1093.16 L761 1091.77 L767 1090.37 L773 1088.95 L779 1087.52 L785 1086.07 L791 1084.6 L797 1083.12 L803 1081.63 L809 1080.12 L815 1078.59 L821 1077.04 L827 1075.48 L833 1073.9 L839 1072.31 L845 1070.69 L851 1069.06 L857 1067.41 L863 1065.75 L869 1064.06 L875 1062.36 L881 1060.64 L887 1058.9 L893 1057.14 L899 1055.36 L905 1053.56 L911 1051.74 L917 1049.91 L923 1048.05 L929 1046.18 L935 1044.28 L941 1042.37 L947 1040.43 L953 1038.48 L959 1036.51 L965 1034.51 L971 1032.5 L977 1030.47 L983 1028.41 L989 1026.34 L995 1024.25 L1001 1022.13 L1007 1020 L1013 1017.84 L1019 1015.67 L1025 1013.48 L1031 1011.26 L1037 1009.03 L1043 1006.78 L1049 1004.5 L1055 1002.21 L1061 999.9 L1067 997.56 L1073 995.21 L1079 992.84 L1085 990.45 L1091 988.04 L1097 985.61 L1103 983.16 L1109 980.69 L1115 978.2 L1121 975.69 L1127 973.17 L1133 970.62 L1139 968.06 L1145 965.47 L1151 962.87 L1157 960.25 L1163 957.62 L1169 954.96 L1175 952.29 L1181 949.59 L1187 946.88 L1193 944.15 L1199 941.41 L1205 938.65 L1211 935.87 L1217 933.07 L1223 930.25 L1229 927.42 L1235 924.57 L1241 921.71 L1247 918.82 L1253 915.93 L1259 913.01 L1265 910.08 L1271 907.13 L1277 904.17 L1283 901.19 L1289 898.2 L1295 895.19 L1301 892.16 L1307 889.12 L1313 886.07 L1319 883 L1325 879.92 L1331 876.82 L1337 873.7 L1343 870.58 L1349 867.44 L1355 864.28 L1361 861.11 L1367 857.93 L1373 854.73 L1379 851.53 L1385 848.3 L1391 845.07 L1397 841.82 L1403 838.56 L1409 835.29 L1415 832 L1421 828.71 L1427 825.4 L1433 822.07 L1439 818.74 L1445 815.4 L1451 812.04 L1457 808.67 L1463 805.3 L1469 801.91 L1475 798.51 L1481 795.1 L1487 791.68 L1493 788.24 L1499 784.8 L1505 781.35 L1511 777.89 L1517 774.42 L1523 770.94 L1529 767.45 L1535 763.95 L1541 760.44 L1547 756.92 L1553 753.39 L1559 749.85 L1565 746.31 L1571 742.76 L1577 739.19 L1583 735.62 L1589 732.05 L1595 728.46 L1601 724.86 L1607 721.26 L1613 717.65 L1619 714.04 L1625 710.41 L1631 706.78 L1637 703.14 L1643 699.49 L1649 695.84 L1655 692.18 L1661 688.51 L1667 684.84 L1673 681.16 L1679 677.47 L1685 673.78 L1691 670.08 L1697 666.37 L1703 662.66 L1709 658.94 L1715 655.22 L1721 651.49 L1727 647.76 L1733 644.02 L1739 640.27 L1745 636.52 L1751 632.76 L1757 629 L1763 625.24 L1769 621.46 L1775 617.69 L1781 613.91 L1787 610.12 L1793 606.33 L1799 602.54 L1805 598.74 L1811 594.93 L1817 591.12 L1823 587.31 L1829 583.49 L1835 579.67 L1841 575.85 L1847 572.02 L1853 568.19 L1859 564.35 L1865 560.51 L1871 556.67 L1877 552.82 L1883 548.97 L1889 545.11 L1895 541.25 L1901 537.39 L1907 533.53 L1913 529.66 L1919 525.79 L1925 521.91 L1931 518.04 L1937 514.16 L1943 510.27 L1949 506.39 L1955 502.5 L1961 498.6 L1967 494.71 L1973 490.81 L1979 486.91 L1985 483.01 L1991 479.1 L1997 475.2 L2003 471.29 L2009 467.37 L2015 463.46 L2021 459.54 L2027 455.62 L2033 451.7 L2039 447.78 L2045 443.85 L2048 441.89"/>
</g>
<g fill="none" stroke="#2f6fa6" stroke-width="0.9" stroke-linejoin="round">
<path d="M245 805.47 L251 801.75 L257 798.03 L263 794.3 L269 790.58 L275 786.87 L281 783.15 L287 779.44 L293 775.73 L299 772.02 L305 768.31 L311 764.61 L317 760.9 L323 757.2 L329 753.5 L335 749.8 L341 746.1 L347 742.4 L353 738.7 L359 735.01 L365 731.31 L371 727.62 L377 723.93 L383 720.23 L389 716.54 L395 712.85 L401 709.15 L407 705.46 L413 701.77 L419 698.08 L425 694.39 L431 690.69 L437 687 L443 683.3 L449 679.61 L455 675.91 L461 672.22 L467 668.52 L473 664.82 L479 661.12 L485 657.42 L491 653.71 L497 650.01 L503 646.3 L509 642.59 L515 638.88 L521 635.17 L527 631.45 L533 627.74 L539 624.02 L545 620.29 L551 616.57 L557 612.84 L563 609.11 L569 605.38 L575 601.64 L581 597.9 L587 594.16 L593 590.41 L599 586.66 L605 582.91 L611 579.16 L617 575.4 L623 571.64 L629 567.87 L635 564.1 L641 560.33 L647 556.55 L653 552.77 L659 548.99 L665 545.2 L671 541.41 L677 537.62 L683 533.82 L689 530.02 L695 526.21 L701 522.41 L707 518.59 L713 514.78 L719 510.96 L725 507.13 L731 503.31 L737 499.48 L743 495.64 L749 491.81 L755 487.97 L761 484.12 L767 480.27 L773 476.42 L779 472.57 L785 468.71 L791 464.85 L797 460.99 L803 457.12 L809 453.25 L815 449.38 L821 445.5 L827 441.62 L833 437.74 L839 433.85 L845 429.97 L851 426.07 L857 422.18 L863 418.29 L869 414.39 L875 410.49 L881 406.58 L887 402.68 L893 398.77 L899 394.85 L905 390.94 L911 387.03 L917 383.11 L923 379.19 L929 375.26 L935 371.34 L941 367.41 L947 363.48 L953 359.55 L959 355.62 L965 351.68 L971 347.75 L977 343.81 L983 339.87 L989 335.92 L995 331.98 L1001 328.03 L1007 324.08 L1013 320.13 L1019 316.18 L1025 312.23 L1031 308.27 L1037 304.32 L1043 300.36 L1049 296.4 L1055 292.44 L1061 288.48 L1067 284.51 L1073 280.55 L1079 276.58 L1085 272.61 L1091 268.65 L1097 264.67 L1103 260.7 L1109 256.73 L1115 252.76 L1121 248.78 L1127 244.8 L1133 240.83 L1139 236.85 L1145 232.87 L1151 228.89 L1157 224.9 L1163 220.92 L1169 216.94 L1175 212.95 L1181 208.97 L1187 204.98 L1193 200.99 L1199 197 L1205 193.01 L1211 189.02 L1217 185.03 L1223 181.04 L1229 177.04 L1235 173.05 L1241 169.05 L1247 165.06 L1253 161.06 L1259 157.06 L1265 153.06 L1271 149.07 L1277 145.07 L1283 141.07 L1289 137.06 L1295 133.06 L1301 129.06 L1307 125.06 L1313 121.05 L1319 117.05 L1325 113.04 L1331 109.04 L1337 105.03 L1343 101.03 L1349 97.02 L1355 93.01 L1361 89 L1367 84.99 L1373 80.98 L1379 76.97 L1385 72.96 L1391 68.95 L1397 64.94 L1403 60.93 L1409 56.92 L1415 52.9 L1421 48.89 L1427 44.88 L1433 40.86 L1439 36.85 L1445 32.83 L1451 28.82 L1457 24.8 L1463 20.79 L1469 16.77 L1475 12.75 L1481 8.73 L1487 4.72 L1493 0.7 L1499 -3.32 L1505 -7.34 L1511 -11.36 L1517 -15.38 L1523 -19.4 L1529 -23.42 L1535 -27.44 L1541 -31.46 L1547 -35.48 L1553 -39.5 L1559 -43.52 L1565 -47.54 L1571 -51.57 L1577 -55.59 L1583 -59.61 L1589 -63.63 L1595 -67.66 L1601 -71.68 L1607 -75.7 L1613 -79.73 L1619 -83.75 L1625 -87.78 L1631 -91.8 L1637 -95.83 L1643 -99.85 L1649 -103.88 L1655 -107.9 L1661 -111.93 L1667 -115.95 L1673 -119.98 L1679 -124 L1685 -128.03 L1691 -132.06 L1697 -136.08 L1703 -140.11 L1709 -144.14 L1715 -148.17 L1721 -152.19 L1727 -156.22 L1733 -160.25 L1739 -164.28 L1745 -168.3 L1751 -172.33 L1757 -176.36 L1763 -180.39 L1769 -184.42 L1775 -188.45 L1781 -192.48 L1787 -196.5 L1793 -200.53 L1799 -204.56 L1805 -208.59 L1811 -212.62 L1817 -216.65 L1823 -220.68 L1829 -224.71 L1835 -228.74 L1841 -232.77 L1847 -236.8 L1853 -240.83 L1859 -244.86 L1865 -248.89 L1871 -252.92 L1877 -256.95 L1883 -260.99 L1889 -265.02 L1895 -269.05 L1901 -273.08 L1907 -277.11 L1913 -281.14 L1919 -285.17 L1925 -289.2 L1931 -293.24 L1937 -297.27 L1943 -301.3 L1949 -305.33 L1955 -309.36 L1961 -313.39 L1967 -317.43 L1973 -321.46 L1979 -325.49 L1985 -329.52 L1991 -333.56 L1997 -337.59 L2003 -341.62 L2009 -345.65 L2015 -349.69 L2021 -353.72 L2027 -357.75 L2033 -361.78 L2039 -365.82 L2045 -369.85 L2048 -371.87"/>
<path d="M245 968.7 L251 967.72 L257 966.73 L263 965.73 L269 964.71 L275 963.68 L281 962.63 L287 961.58 L293 960.5 L299 959.42 L305 958.32 L311 957.2 L317 956.07 L323 954.93 L329 953.77 L335 952.59 L341 951.41 L347 950.2 L353 948.99 L359 947.75 L365 946.5 L371 945.24 L377 943.96 L383 942.67 L389 941.36 L395 940.03 L401 938.69 L407 937.33 L413 935.96 L419 934.57 L425 933.16 L431 931.74 L437 930.3 L443 928.85 L449 927.38 L455 925.89 L461 924.39 L467 922.87 L473 921.34 L479 919.78 L485 918.21 L491 916.63 L497 915.02 L503 913.4 L509 911.76 L515 910.11 L521 908.44 L527 906.75 L533 905.04 L539 903.32 L545 901.58 L551 899.82 L557 898.04 L563 896.24 L569 894.43 L575 892.6 L581 890.75 L587 888.89 L593 887.01 L599 885.1 L605 883.18 L611 881.25 L617 879.29 L623 877.32 L629 875.32 L635 873.31 L641 871.28 L647 869.24 L653 867.17 L659 865.09 L665 862.98 L671 860.86 L677 858.72 L683 856.56 L689 854.39 L695 852.19 L701 849.98 L707 847.74 L713 845.49 L719 843.22 L725 840.93 L731 838.63 L737 836.3 L743 833.95 L749 831.59 L755 829.21 L761 826.81 L767 824.39 L773 821.95 L779 819.5 L785 817.02 L791 814.53 L797 812.02 L803 809.49 L809 806.94 L815 804.37 L821 801.79 L827 799.19 L833 796.57 L839 793.93 L845 791.27 L851 788.6 L857 785.91 L863 783.2 L869 780.47 L875 777.73 L881 774.97 L887 772.19 L893 769.39 L899 766.58 L905 763.75 L911 760.91 L917 758.04 L923 755.16 L929 752.27 L935 749.36 L941 746.43 L947 743.49 L953 740.53 L959 737.55 L965 734.56 L971 731.55 L977 728.53 L983 725.5 L989 722.44 L995 719.38 L1001 716.3 L1007 713.2 L1013 710.09 L1019 706.97 L1025 703.83 L1031 700.68 L1037 697.51 L1043 694.33 L1049 691.14 L1055 687.94 L1061 684.72 L1067 681.48 L1073 678.24 L1079 674.98 L1085 671.71 L1091 668.43 L1097 665.14 L1103 661.83 L1109 658.51 L1115 655.18 L1121 651.84 L1127 648.49 L1133 645.12 L1139 641.75 L1145 638.36 L1151 634.96 L1157 631.55 L1163 628.14 L1169 624.71 L1175 621.27 L1181 617.82 L1187 614.36 L1193 610.89 L1199 607.41 L1205 603.92 L1211 600.42 L1217 596.92 L1223 593.4 L1229 589.88 L1235 586.34 L1241 582.8 L1247 579.25 L1253 575.69 L1259 572.12 L1265 568.54 L1271 564.96 L1277 561.37 L1283 557.76 L1289 554.16 L1295 550.54 L1301 546.92 L1307 543.29 L1313 539.65 L1319 536 L1325 532.35 L1331 528.69 L1337 525.03 L1343 521.36 L1349 517.68 L1355 513.99 L1361 510.3 L1367 506.6 L1373 502.9 L1379 499.19 L1385 495.47 L1391 491.75 L1397 488.02 L1403 484.29 L1409 480.55 L1415 476.81 L1421 473.06 L1427 469.3 L1433 465.54 L1439 461.78 L1445 458.01 L1451 454.23 L1457 450.45 L1463 446.67 L1469 442.88 L1475 439.08 L1481 435.28 L1487 431.48 L1493 427.67 L1499 423.86 L1505 420.05 L1511 416.23 L1517 412.4 L1523 408.57 L1529 404.74 L1535 400.91 L1541 397.07 L1547 393.22 L1553 389.38 L1559 385.53 L1565 381.67 L1571 377.82 L1577 373.96 L1583 370.09 L1589 366.22 L1595 362.35 L1601 358.48 L1607 354.6 L1613 350.72 L1619 346.84 L1625 342.95 L1631 339.07 L1637 335.17 L1643 331.28 L1649 327.38 L1655 323.48 L1661 319.58 L1667 315.68 L1673 311.77 L1679 307.86 L1685 303.95 L1691 300.03 L1697 296.12 L1703 292.2 L1709 288.28 L1715 284.35 L1721 280.43 L1727 276.5 L1733 272.57 L1739 268.64 L1745 264.7 L1751 260.77 L1757 256.83 L1763 252.89 L1769 248.95 L1775 245.01 L1781 241.06 L1787 237.11 L1793 233.17 L1799 229.21 L1805 225.26 L1811 221.31 L1817 217.35 L1823 213.4 L1829 209.44 L1835 205.48 L1841 201.52 L1847 197.55 L1853 193.59 L1859 189.63 L1865 185.66 L1871 181.69 L1877 177.72 L1883 173.75 L1889 169.78 L1895 165.8 L1901 161.83 L1907 157.85 L1913 153.88 L1919 149.9 L1925 145.92 L1931 141.94 L1937 137.96 L1943 133.97 L1949 129.99 L1955 126.01 L1961 122.02 L1967 118.03 L1973 114.05 L1979 110.06 L1985 106.07 L1991 102.08 L1997 98.09 L2003 94.1 L2009 90.1 L2015 86.11 L2021 82.11 L2027 78.12 L2033 74.12 L2039 70.13 L2045 66.13 L2048 64.13"/>
<path d="M245 1160.93 L251 1159.83 L257 1158.71 L263 1157.58 L269 1156.43 L275 1155.27 L281 1154.09 L287 1152.89 L293 1151.68 L299 1150.45 L305 1149.21 L311 1147.95 L317 1146.67 L323 1145.38 L329 1144.06 L335 1142.73 L341 1141.39 L347 1140.03 L353 1138.64 L359 1137.25 L365 1135.83 L371 1134.4 L377 1132.94 L383 1131.47 L389 1129.99 L395 1128.48 L401 1126.96 L407 1125.42 L413 1123.86 L419 1122.28 L425 1120.68 L431 1119.06 L437 1117.43 L443 1115.78 L449 1114.11 L455 1112.41 L461 1110.71 L467 1108.98 L473 1107.23 L479 1105.46 L485 1103.68 L491 1101.87 L497 1100.05 L503 1098.21 L509 1096.34 L515 1094.46 L521 1092.56 L527 1090.64 L533 1088.7 L539 1086.75 L545 1084.77 L551 1082.77 L557 1080.75 L563 1078.72 L569 1076.66 L575 1074.59 L581 1072.49 L587 1070.38 L593 1068.25 L599 1066.09 L605 1063.92 L611 1061.73 L617 1059.52 L623 1057.29 L629 1055.04 L635 1052.77 L641 1050.48 L647 1048.18 L653 1045.85 L659 1043.51 L665 1041.14 L671 1038.76 L677 1036.36 L683 1033.93 L689 1031.49 L695 1029.04 L701 1026.56 L707 1024.06 L713 1021.55 L719 1019.01 L725 1016.46 L731 1013.89 L737 1011.31 L743 1008.7 L749 1006.07 L755 1003.43 L761 1000.77 L767 998.09 L773 995.4 L779 992.68 L785 989.95 L791 987.21 L797 984.44 L803 981.66 L809 978.86 L815 976.04 L821 973.21 L827 970.36 L833 967.49 L839 964.61 L845 961.71 L851 958.79 L857 955.86 L863 952.91 L869 949.95 L875 946.97 L881 943.98 L887 940.97 L893 937.94 L899 934.9 L905 931.85 L911 928.78 L917 925.69 L923 922.6 L929 919.48 L935 916.36 L941 913.21 L947 910.06 L953 906.89 L959 903.71 L965 900.51 L971 897.31 L977 894.08 L983 890.85 L989 887.6 L995 884.34 L1001 881.07 L1007 877.78 L1013 874.49 L1019 871.18 L1025 867.86 L1031 864.52 L1037 861.18 L1043 857.82 L1049 854.46 L1055 851.08 L1061 847.69 L1067 844.29 L1073 840.88 L1079 837.46 L1085 834.03 L1091 830.59 L1097 827.14 L1103 823.67 L1109 820.2 L1115 816.72 L1121 813.23 L1127 809.73 L1133 806.22 L1139 802.71 L1145 799.18 L1151 795.64 L1157 792.1 L1163 788.54 L1169 784.98 L1175 781.41 L1181 777.83 L1187 774.25 L1193 770.65 L1199 767.05 L1205 763.44 L1211 759.83 L1217 756.2 L1223 752.57 L1229 748.93 L1235 745.28 L1241 741.63 L1247 737.97 L1253 734.3 L1259 730.63 L1265 726.95 L1271 723.26 L1277 719.57 L1283 715.87 L1289 712.16 L1295 708.45 L1301 704.74 L1307 701.01 L1313 697.28 L1319 693.55 L1325 689.81 L1331 686.06 L1337 682.31 L1343 678.56 L1349 674.8 L1355 671.03 L1361 667.26 L1367 663.48 L1373 659.7 L1379 655.92 L1385 652.13 L1391 648.33 L1397 644.53 L1403 640.73 L1409 636.92 L1415 633.11 L1421 629.29 L1427 625.47 L1433 621.64 L1439 617.82 L1445 613.98 L1451 610.15 L1457 606.31 L1463 602.46 L1469 598.61 L1475 594.76 L1481 590.91 L1487 587.05 L1493 583.19 L1499 579.32 L1505 575.46 L1511 571.59 L1517 567.71 L1523 563.83 L1529 559.95 L1535 556.07 L1541 552.18 L1547 548.29 L1553 544.4 L1559 540.51 L1565 536.61 L1571 532.71 L1577 528.81 L1583 524.9 L1589 521 L1595 517.09 L1601 513.17 L1607 509.26 L1613 505.34 L1619 501.42 L1625 497.5 L1631 493.58 L1637 489.65 L1643 485.72 L1649 481.79 L1655 477.86 L1661 473.92 L1667 469.99 L1673 466.05 L1679 462.11 L1685 458.17 L1691 454.22 L1697 450.28 L1703 446.33 L1709 442.38 L1715 438.43 L1721 434.48 L1727 430.52 L1733 426.57 L1739 422.61 L1745 418.65 L1751 414.69 L1757 410.73 L1763 406.77 L1769 402.8 L1775 398.84 L1781 394.87 L1787 390.9 L1793 386.93 L1799 382.96 L1805 378.99 L1811 375.01 L1817 371.04 L1823 367.06 L1829 363.09 L1835 359.11 L1841 355.13 L1847 351.15 L1853 347.17 L1859 343.18 L1865 339.2 L1871 335.22 L1877 331.23 L1883 327.24 L1889 323.26 L1895 319.27 L1901 315.28 L1907 311.29 L1913 307.3 L1919 303.3 L1925 299.31 L1931 295.32 L1937 291.32 L1943 287.33 L1949 283.33 L1955 279.33 L1961 275.33 L1967 271.34 L1973 267.34 L1979 263.34 L1985 259.34 L1991 255.33 L1997 251.33 L2003 247.33 L2009 243.33 L2015 239.32 L2021 235.32 L2027 231.31 L2033 227.31 L2039 223.3 L2045 219.29 L2048 217.29"/>
<path d="M245 1179.35 L251 1178.62 L257 1177.88 L263 1177.13 L269 1176.38 L275 1175.62 L281 1174.85 L287 1174.08 L293 1173.3 L299 1172.51 L305 1171.72 L311 1170.91 L317 1170.11 L323 1169.29 L329 1168.47 L335 1167.65 L341 1166.82 L347 1165.98 L353 1165.13 L359 1164.28 L365 1163.42 L371 1162.56 L377 1161.69 L383 1160.81 L389 1159.93 L395 1159.04 L401 1158.14 L407 1157.24 L413 1156.33 L419 1155.42 L425 1154.5 L431 1153.58 L437 1152.64 L443 1151.71 L449 1150.77 L455 1149.82 L461 1148.86 L467 1147.9 L473 1146.93 L479 1145.96 L485 1144.98 L491 1144 L497 1143.01 L503 1142.01 L509 1141.01 L515 1140 L521 1138.99 L527 1137.96 L533 1136.94 L539 1135.9 L545 1134.86 L551 1133.82 L557 1132.76 L563 1131.7 L569 1130.63 L575 1129.56 L581 1128.48 L587 1127.39 L593 1126.29 L599 1125.19 L605 1124.08 L611 1122.96 L617 1121.83 L623 1120.7 L629 1119.55 L635 1118.4 L641 1117.24 L647 1116.07 L653 1114.89 L659 1113.7 L665 1112.5 L671 1111.29 L677 1110.07 L683 1108.84 L689 1107.6 L695 1106.35 L701 1105.08 L707 1103.81 L713 1102.52 L719 1101.22 L725 1099.91 L731 1098.59 L737 1097.25 L743 1095.9 L749 1094.54 L755 1093.16 L761 1091.77 L767 1090.37 L773 1088.95 L779 1087.52 L785 1086.07 L791 1084.6 L797 1083.12 L803 1081.63 L809 1080.12 L815 1078.59 L821 1077.04 L827 1075.48 L833 1073.9 L839 1072.31 L845 1070.69 L851 1069.06 L857 1067.41 L863 1065.75 L869 1064.06 L875 1062.36 L881 1060.64 L887 1058.9 L893 1057.14 L899 1055.36 L905 1053.56 L911 1051.74 L917 1049.91 L923 1048.05 L929 1046.18 L935 1044.28 L941 1042.37 L947 1040.43 L953 1038.48 L959 1036.51 L965 1034.51 L971 1032.5 L977 1030.47 L983 1028.41 L989 1026.34 L995 1024.25 L1001 1022.13 L1007 1020 L1013 1017.84 L1019 1015.67 L1025 1013.48 L1031 1011.26 L1037 1009.03 L1043 1006.78 L1049 1004.5 L1055 1002.21 L1061 999.9 L1067 997.56 L1073 995.21 L1079 992.84 L1085 990.45 L1091 988.04 L1097 985.61 L1103 983.16 L1109 980.69 L1115 978.2 L1121 975.69 L1127 973.17 L1133 970.62 L1139 968.06 L1145 965.47 L1151 962.87 L1157 960.25 L1163 957.62 L1169 954.96 L1175 952.29 L1181 949.59 L1187 946.88 L1193 944.15 L1199 941.41 L1205 938.65 L1211 935.87 L1217 933.07 L1223 930.25 L1229 927.42 L1235 924.57 L1241 921.71 L1247 918.82 L1253 915.93 L1259 913.01 L1265 910.08 L1271 907.13 L1277 904.17 L1283 901.19 L1289 898.2 L1295 895.19 L1301 892.16 L1307 889.12 L1313 886.07 L1319 883 L1325 879.92 L1331 876.82 L1337 873.7 L1343 870.58 L1349 867.44 L1355 864.28 L1361 861.11 L1367 857.93 L1373 854.73 L1379 851.53 L1385 848.3 L1391 845.07 L1397 841.82 L1403 838.56 L1409 835.29 L1415 832 L1421 828.71 L1427 825.4 L1433 822.07 L1439 818.74 L1445 815.4 L1451 812.04 L1457 808.67 L1463 805.3 L1469 801.91 L1475 798.51 L1481 795.1 L1487 791.68 L1493 788.24 L1499 784.8 L1505 781.35 L1511 777.89 L1517 774.42 L1523 770.94 L1529 767.45 L1535 763.95 L1541 760.44 L1547 756.92 L1553 753.39 L1559 749.85 L1565 746.31 L1571 742.76 L1577 739.19 L1583 735.62 L1589 732.05 L1595 728.46 L1601 724.86 L1607 721.26 L1613 717.65 L1619 714.04 L1625 710.41 L1631 706.78 L1637 703.14 L1643 699.49 L1649 695.84 L1655 692.18 L1661 688.51 L1667 684.84 L1673 681.16 L1679 677.47 L1685 673.78 L1691 670.08 L1697 666.37 L1703 662.66 L1709 658.94 L1715 655.22 L1721 651.49 L1727 647.76 L1733 644.02 L1739 640.27 L1745 636.52 L1751 632.76 L1757 629 L1763 625.24 L1769 621.46 L1775 617.69 L1781 613.91 L1787 610.12 L1793 606.33 L1799 602.54 L1805 598.74 L1811 594.93 L1817 591.12 L1823 587.31 L1829 583.49 L1835 579.67 L1841 575.85 L1847 572.02 L1853 568.19 L1859 564.35 L1865 560.51 L1871 556.67 L1877 552.82 L1883 548.97 L1889 545.11 L1895 541.25 L1901 537.39 L1907 533.53 L1913 529.66 L1919 525.79 L1925 521.91 L1931 518.04 L1937 514.16 L1943 510.27 L1949 506.39 L1955 502.5 L1961 498.6 L1967 494.71 L1973 490.81 L1979 486.91 L1985 483.01 L1991 479.1 L1997 475.2 L2003 471.29 L2009 467.37 L2015 463.46 L2021 459.54 L2027 455.62 L2033 451.7 L2039 447.78 L2045 443.85 L2048 441.89"/>
</g>
<g fill="none" stroke="#ed1c24" stroke-width="6" stroke-dasharray="27.1 15.43">
<path d="M179.22 885.23 L2080 -393.25"/>
<path d="M164.55 1332.83 L2080 44.47"/>
<path d="M180.92 1474.51 L2080 197.17"/>
<path d="M168.91 1711.22 L2080 425.79"/>
</g>
</g>
<path fill="#000" fill-rule="evenodd" d="M247 23 L2048 23 L2050 25 L2050 1240.6 L2045 1245.6 L246 1245.6 L242 1241.6 L242 28Z M253 34 L253 1232 L2040 1232 L2040 34Z"/>
<g fill="#231f20">
<clipPath id="lc1"><path d="M422.75 1235 h60.49 v73.97 h-60.49Z M450.87 1308.02 h7.07 v7.98 h-7.07Z"/></clipPath>
<text x="430.75" y="1315" font-size="80" clip-path="url(#lc1)">1</text>
<clipPath id="lc2"><path d="M1094.01 1235 h104.98 v73.97 h-104.98Z M1124.62 1308.02 h7.07 v7.98 h-7.07Z M1146.5 1308.02 h44.49 v9.98 h-44.49Z"/></clipPath>
<text x="1104.51 1146.5" y="1315" font-size="80" clip-path="url(#lc2)">10</text>
<clipPath id="lc3"><path d="M1765.96 1235 h149.48 v73.97 h-149.48Z M1796.58 1308.02 h7.07 v7.98 h-7.07Z M1818.45 1308.02 h44.49 v9.98 h-44.49Z M1862.95 1308.02 h44.49 v9.98 h-44.49Z"/></clipPath>
<text x="1776.46 1818.45 1862.95" y="1315" font-size="80" clip-path="url(#lc3)">100</text>
<clipPath id="lc4"><path d="M117.4 1038.8 h104.98 v73.97 h-104.98Z M146.22 1111.82 h7.07 v7.98 h-7.07Z M168.39 1111.82 h44.49 v9.98 h-44.49Z"/></clipPath>
<text x="126.1 168.39" y="1118.8" font-size="80" clip-path="url(#lc4)">10</text>
<text x="208.8" y="1072.2" font-size="48" stroke="#231f20" stroke-width="1">2</text>
<clipPath id="lc5"><path d="M117.4 574.9 h104.98 v73.97 h-104.98Z M146.22 647.92 h7.07 v7.98 h-7.07Z M168.39 647.92 h44.49 v9.98 h-44.49Z"/></clipPath>
<text x="126.1 168.39" y="654.9" font-size="80" clip-path="url(#lc5)">10</text>
<text x="208.8" y="608.3" font-size="48" stroke="#231f20" stroke-width="1">3</text>
<clipPath id="lc6"><path d="M117.4 111 h104.98 v73.97 h-104.98Z M146.22 184.02 h7.07 v7.98 h-7.07Z M168.39 184.02 h44.49 v9.98 h-44.49Z"/></clipPath>
<text x="126.1 168.39" y="191" font-size="80" clip-path="url(#lc6)">10</text>
<text x="208.8" y="144.4" font-size="48" stroke="#231f20" stroke-width="1">4</text>
</g>
<text x="1150.5" y="1408" font-size="101" text-anchor="middle" fill="#0a0a0a">t/ns</text>
<g transform="translate(86.8 1000) rotate(-90)" fill="#0a0a0a" stroke="#0a0a0a" stroke-linejoin="round">
<text xml:space="preserve"><tspan x="64.7" y="0" font-size="70" font-weight="normal" stroke-width="1.3">&lt;</tspan><tspan x="105.2" y="0" font-size="70" font-weight="normal" stroke-width="1.3">[</tspan><tspan x="127" y="0" font-size="70" font-weight="bold" stroke-width="1.3">r</tspan><tspan x="152.4" y="19.8" font-size="42" font-weight="normal" stroke-width="1.1">CM</tspan><tspan x="215.5" y="0" font-size="70" font-weight="normal" stroke-width="1.3">(</tspan><tspan x="240.5" y="0" font-size="70" font-weight="normal" stroke-width="1.3">t</tspan><tspan x="262.5" y="0" font-size="70" font-weight="normal" stroke-width="1.3">)</tspan><tspan x="283" y="0" font-size="70" font-weight="normal" stroke-width="1.3"> </tspan><tspan x="303.9" y="0" font-size="70" font-weight="normal" stroke-width="1.3">-</tspan><tspan x="327" y="0" font-size="70" font-weight="normal" stroke-width="1.3"> </tspan><tspan x="349" y="0" font-size="70" font-weight="bold" stroke-width="1.3">r</tspan><tspan x="374" y="19.8" font-size="42" font-weight="normal" stroke-width="1.1">CM</tspan><tspan x="436.2" y="0" font-size="70" font-weight="normal" stroke-width="1.3">(</tspan><tspan x="461.8" y="0" font-size="70" font-weight="normal" stroke-width="1.3">0</tspan><tspan x="504.2" y="0" font-size="70" font-weight="normal" stroke-width="1.3">)</tspan><tspan x="525.9" y="0" font-size="70" font-weight="normal" stroke-width="1.3">]</tspan><tspan x="544.6" y="-28.9" font-size="60.5" font-weight="normal" stroke-width="1.3">2</tspan><tspan x="579.4" y="0" font-size="70" font-weight="normal" stroke-width="1.3">&gt;</tspan><tspan x="620.7" y="0" font-size="70" font-weight="normal" stroke-width="1.3">/</tspan><tspan x="640.6" y="0" font-size="70" font-weight="normal" stroke-width="1.3">Å</tspan><tspan x="687.4" y="-28.9" font-size="60.5" font-weight="normal" stroke-width="1.3">2</tspan></text>
</g>
</svg>
</body></html>
